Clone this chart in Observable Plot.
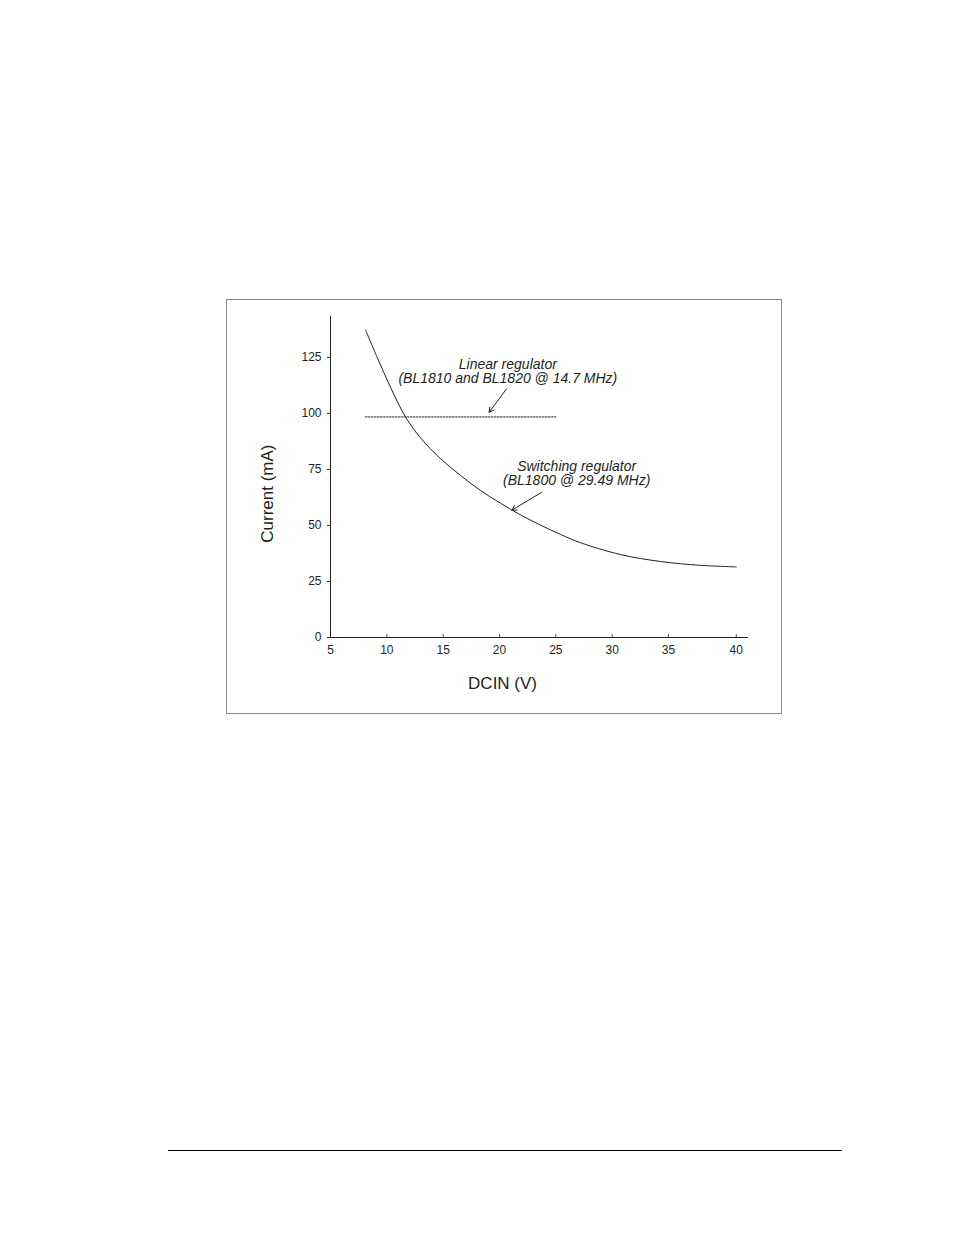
<!DOCTYPE html>
<html><head><meta charset="utf-8">
<script src="https://cdn.jsdelivr.net/npm/d3@7"></script>
<script src="https://cdn.jsdelivr.net/npm/@observablehq/plot@0.6"></script>
<style>
html,body{margin:0;padding:0;background:#fff;}
#page{position:relative;width:954px;height:1235px;overflow:hidden;font-family:"Liberation Sans",Arial,sans-serif;}
#box{position:absolute;left:226px;top:299px;width:556px;height:415px;border:1px solid #8a8a8a;box-sizing:border-box;}
#chart{position:absolute;left:0;top:0;}
#rule{position:absolute;left:168px;top:1150px;width:674px;height:0;border-top:1px solid #000;}
</style></head><body>
<div id="page"><div id="box"></div><div id="chart"></div><div id="rule"></div></div>
<script>
// Switching regulator curve (DCIN volts, current mA)
const switchingVoltage = [8.11, 9.14, 10.33, 11.66, 13.0, 14.76, 16.54, 18.31, 20.09, 21.9, 23.7, 25.41, 27.19, 30.74, 34.29, 37.35, 40];
const switchingCurrent = [137.2, 125.0, 111.6, 98.4, 89.0, 79.8, 72.3, 65.6, 59.9, 54.6, 50.0, 46.0, 42.3, 37.0, 33.9, 32.2, 31.5];
// Linear regulator (flat)
const linearVoltage = [8.11, 25];
const linearCurrent = [98.4, 98.4];
// Axis ticks
const xTicks = [5, 10, 15, 20, 25, 30, 35, 40];
const yTicks = [0, 25, 50, 75, 100, 125];
// Annotations
const noteText = ["Linear regulator", "(BL1810 and BL1820 @ 14.7 MHz)", "Switching regulator", "(BL1800 @ 29.49 MHz)"];
const noteX = [20.74, 20.74, 26.85, 26.85];
const noteY = [121.8, 115.5, 76.3, 70.0];
const arrowFromX = [20.62, 23.75];
const arrowFromY = [110.9, 64.8];
const arrowToX = [19.08, 21.1];
const arrowToY = [100.5, 56.8];
const xTitle = "DCIN (V)";
const yTitle = "Current (mA)";

const W = 954, H = 760;
const switching = switchingVoltage.map((v, i) => ({v, c: switchingCurrent[i]}));
const linear = linearVoltage.map((v, i) => ({v, c: linearCurrent[i]}));
const notes = noteText.map((t, i) => ({t, x: noteX[i], y: noteY[i]}));
const arrows = arrowFromX.map((x1, i) => ({x1, y1: arrowFromY[i], x2: arrowToX[i], y2: arrowToY[i]}));

const chart = Plot.plot({
  width: W, height: H,
  marginLeft: 330, marginRight: W - 748, marginTop: 316, marginBottom: H - 637,
  style: {fontFamily: "'Liberation Sans', Arial, sans-serif", fontSize: "12px", color: "#231f20", background: "transparent", overflow: "visible"},
  x: {type: "linear", domain: [5, 35, 40.9], range: [330, 668, 748]},
  y: {type: "linear", domain: [0, 143.2]},
  marks: [
    Plot.axisX({ticks: xTicks, tickSize: 0, tickPadding: 8, label: null, fontSize: 12}),
    Plot.axisY({ticks: yTicks, tickSize: 3, tickPadding: 6, label: null, fontSize: 12}),
    Plot.ruleX(xTicks, {x: d => d, y1: 0, y2: 1.3, stroke: "#231f20", strokeWidth: 0.8}),
    Plot.ruleY([0], {stroke: "#231f20", strokeWidth: 1}),
    Plot.ruleX([5], {stroke: "#231f20", strokeWidth: 1}),
    Plot.line(linear, {x: "v", y: "c", stroke: "#231f20", strokeWidth: 1, strokeDasharray: "1.6,1.4"}),
    Plot.line(switching, {x: "v", y: "c", curve: "catmull-rom", stroke: "#231f20", strokeWidth: 1}),
    Plot.arrow(arrows, {x1: "x1", y1: "y1", x2: "x2", y2: "y2", stroke: "#231f20", strokeWidth: 1, headLength: 8}),
    Plot.text(notes, {x: "x", y: "y", text: "t", fontSize: 14, fontStyle: "italic", fill: "#231f20"}),
    Plot.text([xTitle], {x: 20.27, y: -20.5, text: d => d, fontSize: 17, fill: "#231f20"}),
    Plot.text([yTitle], {x: -0.59, y: 64.2, text: d => d, fontSize: 17, rotate: -90, fill: "#231f20"})
  ]
});
document.getElementById("chart").appendChild(chart);
</script>
</body></html>
